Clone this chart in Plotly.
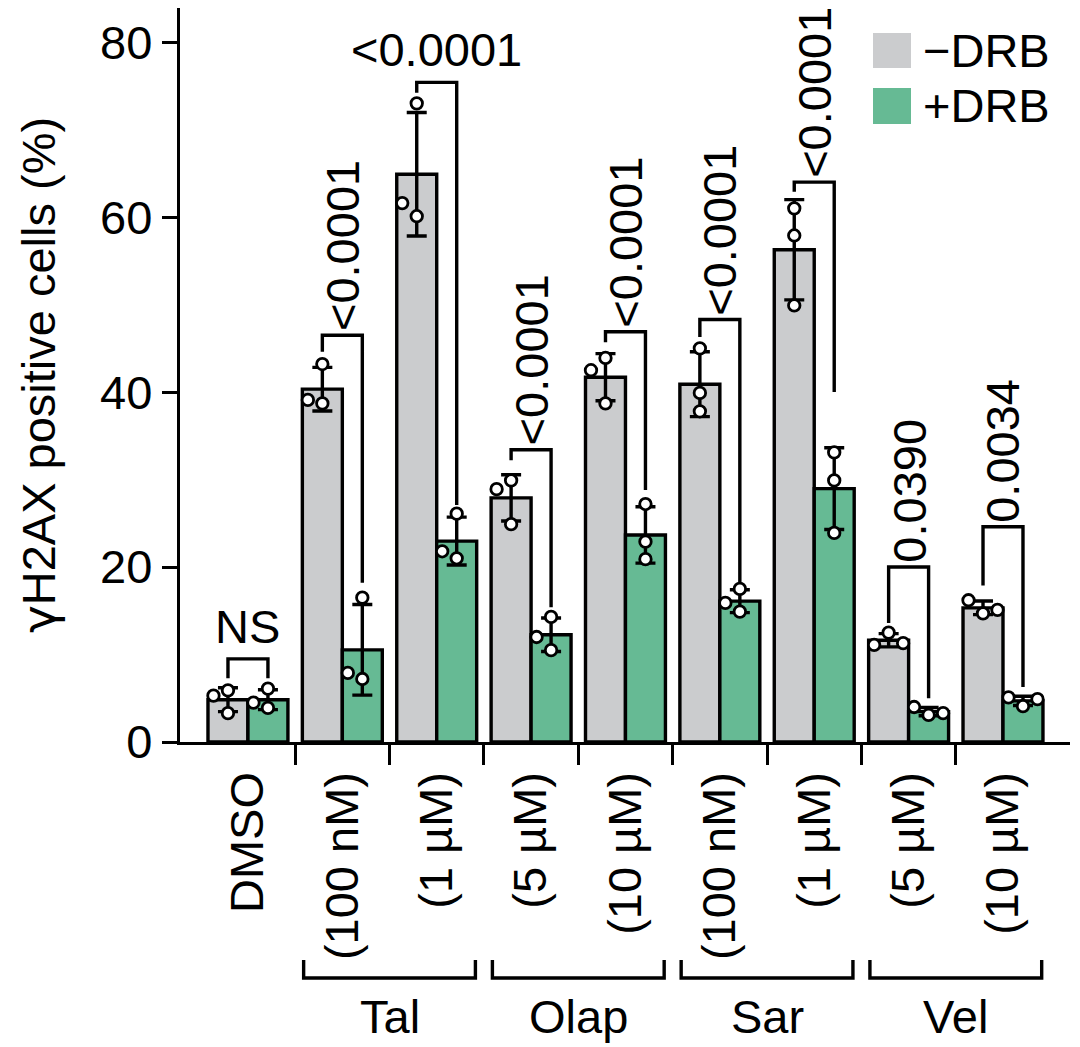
import numpy as np
import plotly.graph_objects as go

# ---------------- data ----------------
categories = ["DMSO", "(100 nM)", "(1 µM)", "(5 µM)", "(10 µM)",
              "(100 nM)", "(1 µM)", "(5 µM)", "(10 µM)"]
series_names = ["\u2212DRB", "+DRB"]

minus_drb_points = [
    [5.9, 3.3, 5.3],
    [43.2, 38.7, 39.1],
    [73.0, 60.1, 61.6],
    [29.9, 28.9, 24.9],
    [43.9, 42.5, 38.7],
    [45.0, 39.9, 37.8],
    [61.0, 57.9, 49.9],
    [12.5, 11.1, 11.3],
    [14.7, 16.2, 15.1],
]
plus_drb_points = [
    [6.1, 3.9, 4.5],
    [16.5, 7.2, 7.9],
    [26.1, 21.0, 21.8],
    [14.3, 10.5, 12.0],
    [27.2, 22.9, 20.9],
    [17.5, 15.9, 14.9],
    [33.1, 29.9, 23.9],
    [3.1, 4.0, 3.3],
    [4.1, 5.1, 4.9],
]

p_labels = ["NS", "<0.0001", "<0.0001", "<0.0001", "<0.0001",
            "<0.0001", "<0.0001", "0.0390", "0.0034"]
bracket_top = [9.5, 46.5, 75.4, 33.4, 46.9, 48.3, 64.0, 20.0, 24.6]
bracket_left_end = [7.3, 44.6, 74.2, 32.2, 45.7, 46.3, 62.9, 13.6, 17.9]
bracket_right_end = [7.3, 18.2, 27.1, 15.4, 28.8, 18.3, 40.0, 5.0, 6.3]

group_names = ["Tal", "Olap", "Sar", "Vel"]
group_first = [1, 3, 5, 7]
group_last = [2, 4, 6, 8]

y_ticks = [0, 20, 40, 60, 80]
y_title = ('<span style="font-family:DejaVu Sans">\u03b3</span>'
           'H2AX positive cells (%)')

# ---------------- style ----------------
FONT = "Liberation Sans, Arial, Helvetica, sans-serif"
FS = 47
FS_P = 47
GRAY = "#CBCCCE"
GREEN = "#66BA94"
LW = 3.4
BARGAP = 0.153
half = (1 - BARGAP) / 4.0          # offset of each bar centre from category centre
horizontal_p = [True, False, True, False, False, False, False, False, False]

X_RANGE = [-0.72, 8.71]
Y_RANGE = [0, 83.9]
# page has an 8 px body margin: the figure is drawn from (8, 8)
W, H = 1072, 1039
ML, MR, MT, MB = 172, 10, 0, 305
px_per_x = (W - ML - MR) / (X_RANGE[1] - X_RANGE[0])
px_per_y = (H - MT - MB) / (Y_RANGE[1] - Y_RANGE[0])
OFF = 8  # page offset

means_m = [float(np.mean(p)) for p in minus_drb_points]
means_p = [float(np.mean(p)) for p in plus_drb_points]
sd_m = [float(np.std(p, ddof=1)) for p in minus_drb_points]
sd_p = [float(np.std(p, ddof=1)) for p in plus_drb_points]
xs = list(range(len(categories)))


def swarm(values, step_px=14.5, min_d=14.0):
    """simple beeswarm: return x offsets (data units) for the points"""
    placed = []
    offs = []
    for v in values:
        vy = v * px_per_y
        for k in [0, -1, 1, -2, 2, -3, 3]:
            ox = k * step_px
            if all(((ox - px) ** 2 + (vy - py) ** 2) ** 0.5 >= min_d for px, py in placed):
                break
        placed.append((ox, vy))
        offs.append(ox / px_per_x)
    return offs


fig = go.Figure()

for name, means, sds, color in [(series_names[0], means_m, sd_m, GRAY),
                                (series_names[1], means_p, sd_p, GREEN)]:
    fig.add_trace(go.Bar(
        x=xs, y=means, name=name,
        marker=dict(color=color, line=dict(color="black", width=LW)),
        error_y=dict(type="data", array=sds, visible=True, color="black",
                     thickness=LW, width=10),
        showlegend=False,
    ))

# individual points
for pts_list, sign in [(minus_drb_points, -1), (plus_drb_points, 1)]:
    px_, py_ = [], []
    for i, pts in enumerate(pts_list):
        offs = swarm(pts)
        for v, o in zip(pts, offs):
            px_.append(i + sign * half + o)
            py_.append(v)
    fig.add_trace(go.Scatter(
        x=px_, y=py_, mode="markers", showlegend=False,
        marker=dict(size=11.5, color="white", line=dict(color="black", width=2.8)),
        cliponaxis=False,
    ))

shapes = []
annotations = []

# significance brackets
for i in xs:
    xl, xr = i - half, i + half
    shapes.append(dict(
        type="path", xref="x", yref="y",
        path=f"M {xl},{bracket_left_end[i]} L {xl},{bracket_top[i]} L {xr},{bracket_top[i]} L {xr},{bracket_right_end[i]}",
        line=dict(color="black", width=LW),
    ))
    if horizontal_p[i]:
        annotations.append(dict(
            x=i, y=bracket_top[i], xref="x", yref="y", text=p_labels[i],
            showarrow=False, xanchor="center", yanchor="bottom", yshift=4,
            font=dict(family=FONT, size=FS_P, color="black"),
        ))
    else:
        annotations.append(dict(
            x=i, y=bracket_top[i], xref="x", yref="y", text=p_labels[i],
            showarrow=False, xanchor="center", yanchor="bottom", textangle=-90,
            yshift=2, font=dict(family=FONT, size=FS_P, color="black"),
        ))

# group brackets beneath axis (positions in page pixels)
plot_h = H - MT - MB
def paper_y(ypix):
    return (H - MB - (ypix - OFF)) / plot_h

for name, a, b in zip(group_names, group_first, group_last):
    x0, x1 = a - 0.41, b + 0.41
    y0, y1 = paper_y(960), paper_y(978)
    shapes.append(dict(
        type="path", xref="x", yref="paper",
        path=f"M {x0},{y0} L {x0},{y1} L {x1},{y1} L {x1},{y0}",
        line=dict(color="black", width=LW),
    ))
    annotations.append(dict(
        x=(a + b) / 2, y=paper_y(1016), xref="x", yref="paper", text=name,
        showarrow=False, xanchor="center", yanchor="middle",
        font=dict(family=FONT, size=FS, color="black"),
    ))

# manual legend
plot_w = W - ML - MR
def paper_x(xpix):
    return (xpix - OFF - ML) / plot_w

for name, color, (ytop, ybot) in zip(series_names, [GRAY, GREEN], [(33, 68), (88, 124)]):
    shapes.append(dict(
        type="rect", xref="paper", yref="paper",
        x0=paper_x(873), x1=paper_x(911), y0=paper_y(ybot), y1=paper_y(ytop),
        fillcolor=color, line=dict(width=0),
    ))
    annotations.append(dict(
        x=paper_x(921), y=paper_y((ytop + ybot) / 2), xref="paper", yref="paper",
        text=name, showarrow=False, xanchor="left", yanchor="middle",
        font=dict(family=FONT, size=FS, color="black"),
    ))

fig.update_layout(
    width=W, height=H,
    margin=dict(l=ML, r=MR, t=MT, b=MB),
    paper_bgcolor="white", plot_bgcolor="white",
    barmode="group", bargap=BARGAP, bargroupgap=0,
    font=dict(family=FONT, size=FS, color="black"),
    shapes=shapes, annotations=annotations,
    showlegend=False,
)

fig.update_xaxes(
    range=X_RANGE, showgrid=False, zeroline=False,
    showline=True, linecolor="black", linewidth=LW,
    tickmode="array", tickvals=xs, ticktext=categories, tickangle=-90,
    ticks="outside", ticklen=8, tickcolor="rgba(0,0,0,0)",
    tickfont=dict(family=FONT, size=FS, color="black"),
    minor=dict(tickmode="array", tickvals=[i + 0.5 for i in xs[:-1]],
               ticks="outside", ticklen=20, tickwidth=LW, tickcolor="black"),
)
fig.update_yaxes(
    range=Y_RANGE, showgrid=False, zeroline=False,
    showline=True, linecolor="black", linewidth=LW,
    tickmode="array", tickvals=y_ticks,
    ticks="outside", ticklen=15, tickwidth=LW, tickcolor="black",
    tickfont=dict(family=FONT, size=FS, color="black"),
    title=dict(text=y_title, font=dict(family=FONT, size=FS, color="black"), standoff=30),
)

fig.write_html("out.html")
